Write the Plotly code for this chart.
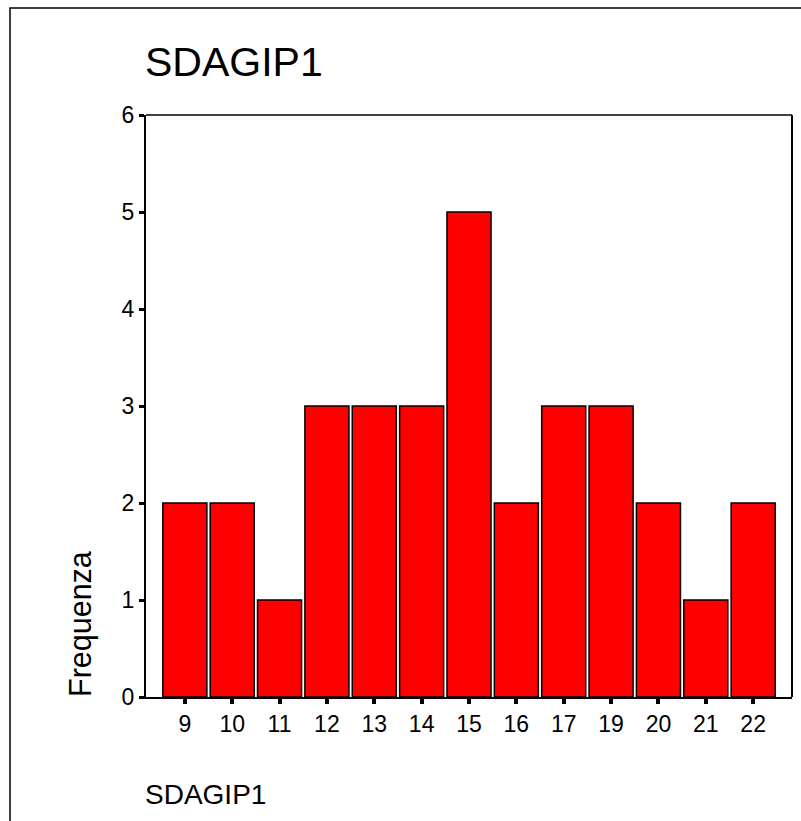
import plotly.graph_objects as go

categories = ["9", "10", "11", "12", "13", "14", "15", "16", "17", "19", "20", "21", "22"]
frequencies = [2, 2, 1, 3, 3, 3, 5, 2, 3, 3, 2, 1, 2]
y_ticks = [0, 1, 2, 3, 4, 5, 6]
title_text = "SDAGIP1"
y_title = "Frequenza"
x_title = "SDAGIP1"

W, H = 801, 821
L, R, T, B = 146, 9, 115, 124
pw, ph = W - L - R, H - T - B

def px(x):
    return (x - L) / pw

def py(y):
    return (H - B - y) / ph

idx = list(range(len(categories)))
FONT = "Liberation Sans, Arial, sans-serif"

fig = go.Figure(go.Bar(
    x=idx, y=frequencies, width=0.93,
    marker=dict(color="#FF0000", line=dict(color="black", width=1.5)),
))

fig.update_layout(
    width=W, height=H,
    margin=dict(l=L, r=R, t=T, b=B),
    paper_bgcolor="white", plot_bgcolor="white",
    showlegend=False,
    font=dict(family=FONT, color="black"),
    xaxis=dict(range=[-0.82, len(categories) - 1 + 0.82], tickvals=idx, ticktext=categories,
               showgrid=False, zeroline=False, showline=True, linecolor="black", linewidth=2,
               ticks="outside", ticklen=5, tickwidth=4, tickcolor="black",
               tickfont=dict(size=23, family=FONT), fixedrange=True),
    yaxis=dict(range=[0, 6], tickvals=y_ticks, showgrid=False, zeroline=False,
               showline=True, linecolor="black", linewidth=2,
               ticks="outside", ticklen=5, tickwidth=3, tickcolor="black",
               ticklabelstandoff=0,
               tickfont=dict(size=23, family=FONT), fixedrange=True),
    shapes=[
        dict(type="line", xref="paper", yref="paper", x0=0, x1=1, y0=1, y1=1,
             line=dict(color="black", width=1.5)),
        dict(type="line", xref="paper", yref="paper", x0=1, x1=1, y0=0, y1=1,
             line=dict(color="black", width=2)),
        dict(type="rect", xref="paper", yref="paper", x0=px(10), x1=px(830),
             y0=py(850), y1=py(8), line=dict(color="black", width=1.5)),
    ],
    annotations=[
        dict(text=title_text, xref="paper", yref="paper", x=px(143), y=py(62),
             xanchor="left", yanchor="middle", showarrow=False,
             font=dict(size=41, family=FONT)),
        dict(text=y_title, xref="paper", yref="paper", x=px(80), y=py(624),
             xanchor="center", yanchor="middle", textangle=-90, showarrow=False,
             font=dict(size=30.5, family=FONT)),
        dict(text=x_title, xref="paper", yref="paper", x=px(143), y=py(794),
             xanchor="left", yanchor="middle", showarrow=False,
             font=dict(size=28, family=FONT)),
    ],
)

fig.write_html("out.html", config={"displayModeBar": False},
               post_script="document.body.style.margin='0';document.body.style.overflow='hidden';")
